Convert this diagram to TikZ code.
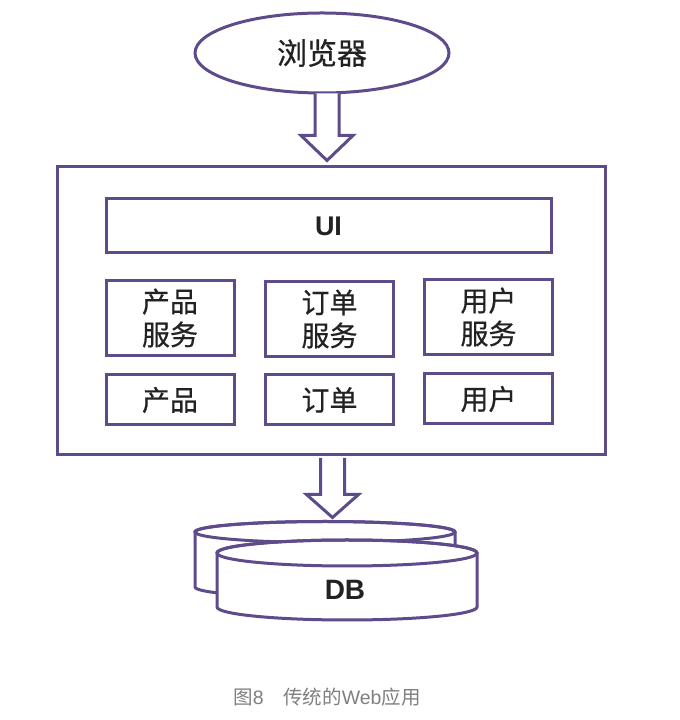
\documentclass[tikz,border=0pt]{standalone}
\usepackage{fontspec}
\setmainfont{Liberation Sans}
\newfontfamily\cjk[FakeBold=0.6]{Noto Sans CJK SC}
\newfontfamily\cjkcap{Noto Sans CJK SC}
\usetikzlibrary{shapes.geometric,calc}
\definecolor{pcFFFFFF}{HTML}{FFFFFF}
\definecolor{pc5E4B8B}{HTML}{5E4B8B}
\definecolor{pc222222}{HTML}{222222}
\definecolor{pc808080}{HTML}{808080}
\tikzset{
  frame/.style={draw=pc5E4B8B, line width=3bp, fill=pcFFFFFF, inner sep=0},
  box/.style={frame, minimum width=128bp, align=center, text=pc222222,
    font=\cjk\fontsize{28bp}{33bp}\selectfont},
  blockarrow/.style={draw=pc5E4B8B, line width=3bp, fill=pcFFFFFF, line join=miter},
}
\begin{document}
\begin{tikzpicture}
\path[use as bounding box] (0bp,0bp) rectangle (680bp,720bp);
\path[fill=pcFFFFFF] (0bp,0bp) rectangle (680bp,720bp);
% browser
\node[frame, ellipse, minimum width=254bp, minimum height=80bp, text=pc222222,
  font=\cjk\fontsize{30bp}{36bp}\selectfont] (browser) at (322bp,667bp) {浏览器};
% application
\node[frame, minimum width=548bp, minimum height=288bp] (app) at (331bp,409bp) {};
\node[frame, minimum width=445bp, minimum height=54bp, text=pc222222,
  font=\bfseries\fontsize{27bp}{32bp}\selectfont] (ui) at (328.5bp,494bp) {UI};
\node[box, minimum height=75bp] (prodsvc) at (170bp,402bp) {产品\\服务};
\node[box, minimum height=75bp] (ordersvc) at (329.5bp,401bp) {订单\\服务};
\node[box, minimum height=75bp] (usersvc) at (488.5bp,403bp) {用户\\服务};
\node[box, minimum height=50bp] (prod) at (170bp,320bp) {产品};
\node[box, minimum height=50bp] (order) at (329.5bp,320bp) {订单};
\node[box, minimum height=50bp] (user) at (488.5bp,321bp) {用户};
% database
\coordinate (dbtop) at (325bp,198.5bp);
\path[frame] (195bp,188bp) -- (195bp,133bp) arc (180:360:130bp and 10.5bp)
  -- (455bp,188bp) arc (0:180:130bp and 10.5bp) -- cycle;
\draw[draw=pc5E4B8B, line width=3bp] (325bp,188bp) ellipse (130bp and 10.5bp);
\path[frame] (217bp,167bp) -- (217bp,113bp) arc (180:360:130bp and 13bp)
  -- (477bp,167bp) arc (0:180:130bp and 13bp) -- cycle;
\draw[draw=pc5E4B8B, line width=3bp] (347bp,167bp) ellipse (130bp and 13bp);
\node[text=pc222222, font=\bfseries\fontsize{28bp}{33bp}\selectfont] (db) at (345bp,130bp) {DB};
% arrows
\draw[blockarrow] let \p1=($(browser.south)+(5bp,1bp)$), \p2=($(app.north)+(-4bp,5bp)$) in
  (\x1-12bp,\y1) -- (\x1-12bp,\y2+25bp) -- (\x1-26bp,\y2+25bp) -- (\x1,\y2)
  -- (\x1+26bp,\y2+25bp) -- (\x1+12bp,\y2+25bp) -- (\x1+12bp,\y1);
\draw[blockarrow] let \p1=($(app.south)+(1.5bp,-1.5bp)$), \p2=($(dbtop)+(7.5bp,4bp)$) in
  (\x1-12bp,\y1) -- (\x1-12bp,\y2+23bp) -- (\x1-26bp,\y2+23bp) -- (\x1,\y2)
  -- (\x1+26bp,\y2+23bp) -- (\x1+12bp,\y2+23bp) -- (\x1+12bp,\y1);
% caption
\node[text=pc808080, font=\fontsize{19.5bp}{23bp}\selectfont] (caption) at (327bp,23bp)
  {{\cjkcap 图}8\quad{\cjkcap 传统的}Web{\cjkcap 应用}};
\end{tikzpicture}
\end{document}
